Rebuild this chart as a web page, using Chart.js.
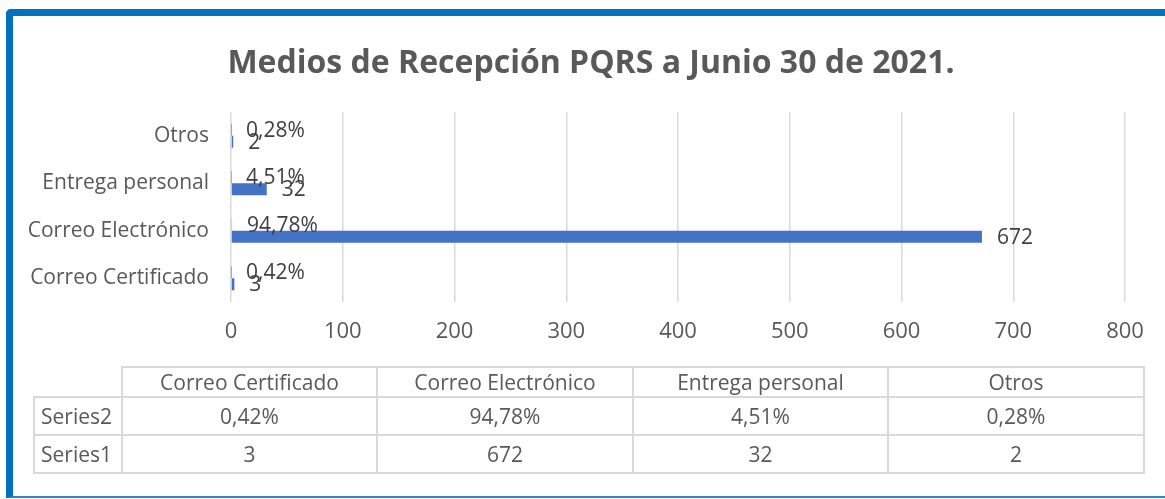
<!DOCTYPE html>
<html>
<head>
<meta charset="utf-8">
<script src="https://cdn.jsdelivr.net/npm/chart.js@4.4.1/dist/chart.umd.min.js"></script>
<style>
  html, body { margin: 0; padding: 0; background: #fff; }
  #wrap { position: relative; width: 1165px; height: 499px; overflow: hidden; font-family: "Open Sans", sans-serif; }
  #frame { position: absolute; left: 6px; top: 9px; width: 1200px; height: 489px; border-left: 7px solid #0070c0; border-top: 7px solid #0070c0; border-bottom: 2px solid #2b86d4; border-top-left-radius: 5px; box-sizing: border-box; }
  #chart { position: absolute; left: 0; top: 0; }
  #tbl { position: absolute; left: 33px; top: 366px; border-collapse: collapse; table-layout: fixed; color: #595959; font-size: 21px; line-height: 24px; }
  #tbl td { border: 2px solid #d9d9d9; text-align: center; padding: 0; overflow: hidden; white-space: nowrap; }
  #tbl tr.head td { height: 28px; }
  #tbl tr.row td { height: 36px; }
  #tbl td.name { text-align: left; padding-left: 6px; }
  #tbl td.blank { border-top: none; border-left: none; }
</style>
</head>
<body>
<div id="wrap">
  <div id="frame"></div>
  <canvas id="chart" width="1165" height="499"></canvas>
  <table id="tbl"></table>
</div>
<script>
var categories = ['Correo Certificado', 'Correo Electrónico', 'Entrega personal', 'Otros'];
var series1 = [3, 672, 32, 2];
var series2 = [0.0042, 0.9478, 0.0451, 0.0028];
var xTicks = [0, 100, 200, 300, 400, 500, 600, 700, 800];

function pct(v) {
    return (v * 100).toFixed(2).replace('.', ',') + '%';
}

var labelText = {
    Series1: series1.map(function (v) { return String(v); }),
    Series2: series2.map(pct)
};

// labels at the end of each bar, like excel "outside end"
var barLabels = {
    id: 'barLabels',
    afterLayout: function (chart) {
        // excel centers the title a bit further right
        chart.titleBlock.left += 43;
    },
    afterDatasetsDraw: function (chart) {
        var ctx = chart.ctx;
        ctx.save();
        ctx.font = '21px "Open Sans"';
        ctx.fillStyle = '#404040';
        ctx.textBaseline = 'middle';
        ctx.textAlign = 'left';
        chart.data.datasets.forEach(function (ds, i) {
            chart.getDatasetMeta(i).data.forEach(function (bar, j) {
                ctx.fillText(labelText[ds.label][j], bar.x + 15, bar.y + 1);
            });
        });
        ctx.restore();
    }
};

var chart = new Chart('chart', {
    type: 'bar',
    plugins: [barLabels],
    data: {
        labels: categories,
        datasets: [
            {
                label: 'Series2',
                data: series2,
                backgroundColor: '#ed7d31',
                categoryPercentage: 0.505,
                barPercentage: 1
            },
            {
                label: 'Series1',
                data: series1,
                backgroundColor: '#4472c4',
                categoryPercentage: 0.505,
                barPercentage: 1
            }
        ]
    },
    options: {
        indexAxis: 'y',
        responsive: false,
        animation: false,
        layout: { padding: { left: 14, right: 40, top: 0, bottom: 0 } },
        plugins: {
            legend: { display: false },
            tooltip: { enabled: false },
            title: {
                display: true,
                text: 'Medios de Recepción PQRS a Junio 30 de 2021.',
                color: '#595959',
                font: { family: '"Open Sans"', size: 32, weight: 'bold' },
                padding: { top: 45, bottom: 28.6 }
            }
        },
        scales: {
            y: {
                reverse: true,
                grid: { display: false, drawTicks: false },
                border: { display: false },
                ticks: { color: '#595959', font: { family: '"Open Sans"', size: 21 }, padding: 22 },
                afterFit: function (scale) { scale.width = 217; }
            },
            x: {
                min: 0,
                max: 800,
                afterBuildTicks: function (scale) {
                    scale.ticks = xTicks.map(function (v) { return { value: v }; });
                },
                grid: { color: '#d9d9d9', lineWidth: 1.5, drawTicks: false },
                border: { display: false },
                ticks: { color: '#595959', font: { family: '"Open Sans"', size: 22 }, padding: 17 },
                afterFit: function (scale) { scale.height = 197; }
            }
        }
    }
});

// data table under the chart
var table = document.getElementById('tbl');
var colWidths = [88, 255, 256, 255, 256];
var cg = document.createElement('colgroup');
colWidths.forEach(function (w) {
    var c = document.createElement('col');
    c.style.width = w + 'px';
    cg.appendChild(c);
});
table.appendChild(cg);

var head = table.insertRow();
head.className = 'head';
var blank = head.insertCell();
blank.className = 'blank';
categories.forEach(function (c) {
    head.insertCell().textContent = c;
});

[['Series2', labelText.Series2], ['Series1', labelText.Series1]].forEach(function (r) {
    var tr = table.insertRow();
    tr.className = 'row';
    var name = tr.insertCell();
    name.className = 'name';
    name.textContent = r[0];
    r[1].forEach(function (t) {
        tr.insertCell().textContent = t;
    });
});
</script>
</body>
</html>
